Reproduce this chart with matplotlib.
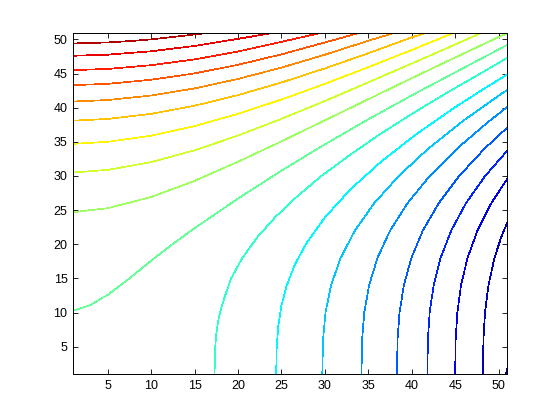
import matplotlib
matplotlib.use("Agg")
import matplotlib.pyplot as plt
from matplotlib.colors import LinearSegmentedColormap

plt.rcParams['font.family'] = ['Liberation Sans', 'DejaVu Sans']

# contour lines, from top-left (highest level) to bottom-right (lowest)
c1_x = [1, 5, 8, 10, 12, 14, 16.8]
c1_y = [49.4, 49.55, 49.79, 50.0, 50.28, 50.57, 51.0]
c2_x = [1, 5, 10, 15, 20, 24.3]
c2_y = [47.6, 47.76, 48.26, 49.04, 50.08, 51.0]
c3_x = [1, 5, 10, 15, 20, 25, 29.7]
c3_y = [45.5, 45.67, 46.22, 47.07, 48.23, 49.64, 51.0]
c4_x = [1, 5, 10, 15, 20, 25, 30, 34.1]
c4_y = [43.3, 43.49, 44.09, 45.02, 46.28, 47.81, 49.55, 51.0]
c5_x = [1, 5, 10, 15, 20, 25, 30, 35, 38.1]
c5_y = [40.9, 41.12, 41.78, 42.82, 44.21, 45.87, 47.76, 49.8, 51.0]
c6_x = [1, 5, 10, 15, 20, 25, 30, 35, 40, 41.8]
c6_y = [38.1, 38.35, 39.1, 40.29, 41.84, 43.69, 45.75, 47.97, 50.3, 51.0]
c7_x = [1, 5, 10, 15, 20, 25, 30, 35, 40, 44.9]
c7_y = [34.7, 35.0, 35.9, 37.3, 39.1, 41.19, 43.49, 45.93, 48.45, 51.0]
c8_x = [1, 5, 10, 15, 20, 25, 30, 35, 40, 45, 48.1]
c8_y = [30.5, 30.89, 32.03, 33.76, 35.92, 38.37, 40.98, 43.71, 46.47, 49.25, 51.0]
c9_x = [1, 5, 10, 15, 20, 25, 30, 35, 40, 45, 50, 51]
c9_y = [24.7, 25.28, 26.92, 29.29, 32.08, 35.07, 38.15, 41.24, 44.32, 47.35, 50.34, 50.9]
c10_x = [1, 3, 5, 7.5, 10, 12.5, 15, 20, 25, 30, 35, 40, 45, 51]
c10_y = [10.26, 11.1, 12.6, 15.0, 17.6, 20.06, 22.35, 26.7, 30.78, 34.63, 38.3, 41.8, 45.17, 49.2]
c11_x = [17.29, 17.37, 17.51, 17.75, 18.13, 18.65, 19.2, 20.5, 22.2, 24.3, 26.8, 29.6, 32.8, 36.2, 39.9, 43.8, 47.9, 51.0]
c11_y = [1, 5, 7, 9, 11, 13, 15, 18, 21, 24, 27, 30, 33, 36, 39, 42, 45, 47.3]
c12_x = [24.39, 24.45, 24.63, 24.99, 25.61, 26.54, 27.8, 30.04, 32.91, 36.38, 40.4, 44.91, 48.6, 51.0]
c12_y = [1, 5, 8, 11, 14, 17, 20, 24, 28, 32, 36, 40, 43, 44.85]
c13_x = [29.7, 29.78, 30.07, 30.71, 31.81, 33.45, 35.67, 38.5, 41.9, 45.84, 50.28, 51.0]
c13_y = [1, 6, 10, 14, 18, 22, 26, 30, 34, 38, 42, 42.6]
c14_x = [34.21, 34.28, 34.53, 35.09, 36.05, 37.5, 39.5, 42.07, 45.2, 48.88, 51.0]
c14_y = [1, 6, 10, 14, 18, 22, 26, 30, 34, 38, 40.1]
c15_x = [38.3, 38.36, 38.59, 39.09, 39.96, 41.27, 43.1, 45.46, 48.38, 51.0]
c15_y = [1, 6, 10, 14, 18, 22, 26, 30, 34, 37.1]
c16_x = [41.8, 41.85, 42.06, 42.52, 43.32, 44.54, 46.23, 48.45, 51.0]
c16_y = [1, 6, 10, 14, 18, 22, 26, 30, 33.7]
c17_x = [45.0, 45.05, 45.25, 45.67, 46.42, 47.56, 49.15, 51.0]
c17_y = [1, 6, 10, 14, 18, 22, 26, 29.6]
c18_x = [48.2, 48.25, 48.43, 48.83, 49.52, 50.29, 51.0]
c18_y = [1, 6, 10, 14, 18, 21, 23.2]
c19_x = [50.85, 51.0]
c19_y = [1, 1.8]

x_ticks = [5, 10, 15, 20, 25, 30, 35, 40, 45, 50]
y_ticks = [5, 10, 15, 20, 25, 30, 35, 40, 45, 50]

lines = [(c1_x, c1_y), (c2_x, c2_y), (c3_x, c3_y), (c4_x, c4_y), (c5_x, c5_y),
         (c6_x, c6_y), (c7_x, c7_y), (c8_x, c8_y), (c9_x, c9_y), (c10_x, c10_y),
         (c11_x, c11_y), (c12_x, c12_y), (c13_x, c13_y), (c14_x, c14_y),
         (c15_x, c15_y), (c16_x, c16_y), (c17_x, c17_y), (c18_x, c18_y),
         (c19_x, c19_y)]

# matlab style jet
jet_m = LinearSegmentedColormap('jet_m', {
    'red': [(0, 0, 0), (0.375, 0, 0), (0.625, 1, 1), (0.875, 1, 1), (1, 0.5, 0.5)],
    'green': [(0, 0, 0), (0.125, 0, 0), (0.375, 1, 1), (0.625, 1, 1), (0.875, 0, 0), (1, 0, 0)],
    'blue': [(0, 0.5, 0.5), (0.125, 1, 1), (0.375, 1, 1), (0.625, 0, 0), (1, 0, 0)],
})

fig = plt.figure(figsize=(5.6, 4.2), dpi=100)
ax = fig.add_axes([0.1304, 0.1095, 0.7755, 0.813])

n = len(lines)
for i, (xs, ys) in enumerate(lines):
    t = 0.951 - i * (0.949 / (n - 1))
    ax.plot(xs, ys, color=jet_m(t), lw=0.5, antialiased=False)

ax.set_xlim(1, 51)
ax.set_ylim(1, 51)
ax.set_xticks(x_ticks)
ax.set_yticks(y_ticks)
ax.tick_params(direction='in', top=True, right=True, length=3.3, width=0.6,
               labelsize=9, pad=4)
for s in ax.spines.values():
    s.set_linewidth(0.7)

fig.savefig('out.png', dpi=100)
